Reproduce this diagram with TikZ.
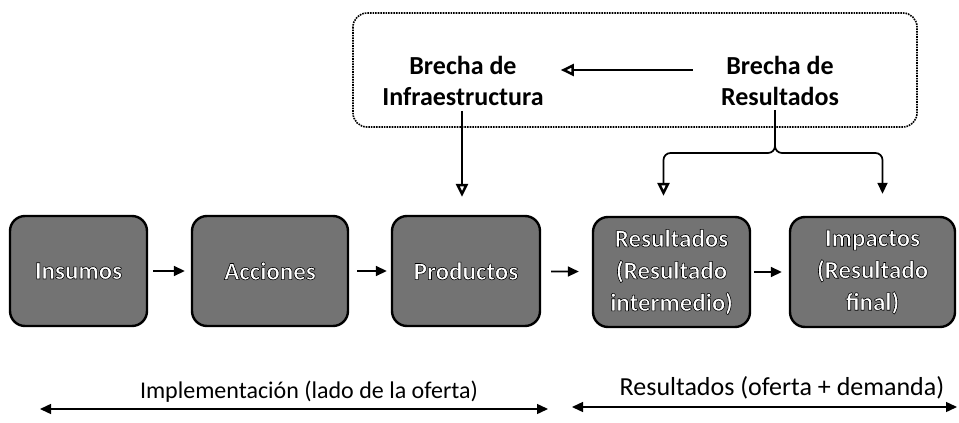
\documentclass[tikz,border=0pt]{standalone}
\usepackage{fontspec}
\setmainfont{Carlito}
\usetikzlibrary{arrows.meta,calc}
\tikzset{
  stage/.style={draw=black, line width=2.4pt, rounded corners=15pt, fill=black!55,
    minimum height=110pt, text=white, font=\fontsize{25}{32}\selectfont\bfseries,
    align=center, inner sep=2pt},
  gap/.style={font=\fontsize{26}{31}\selectfont\bfseries, align=center, inner sep=2pt},
  conn/.style={line width=1.7pt, -{Triangle[length=11pt,width=10pt]}},
  connopen/.style={line width=1.7pt, -{Triangle[open,length=13pt,width=12pt,line width=2.5pt]}},
  twoway/.style={line width=1.4pt, {Triangle[length=11pt,width=10pt]}-{Triangle[length=11pt,width=10pt]}}
}
\newcommand{\outl}[1]{\special{pdf:literal direct 2 Tr 0.6 w 0 G}#1\special{pdf:literal direct 0 Tr}}
\begin{document}
\begin{tikzpicture}[x=1pt,y=-1pt]
\useasboundingbox (0,0) rectangle (959,423);
% dotted frame
\draw[densely dotted, line width=1.6pt, rounded corners=14pt] (353,13) rectangle (917,127);
% gap labels
\node[gap] (binf) at (463,81) {Brecha de\\Infraestructura};
\node[gap] (bres) at (780,81) {Brecha de\\Resultados};
% stages
\node[stage, minimum width=137pt] (ins) at (78.5,271) {\outl{Insumos}};
\node[stage, minimum width=156pt] (acc) at (270,271) {\outl{Acciones}};
\node[stage, minimum width=148pt] (pro) at (466,271) {\outl{Productos}};
\node[stage, minimum width=157pt] (res) at (671.5,272) {\outl{Resultados}\\\outl{(Resultado}\\\outl{intermedio)}};
\node[stage, minimum width=165pt] (imp) at (872.5,272) {\outl{Impactos}\\\outl{(Resultado}\\\outl{final)}};
% stage arrows
\draw[conn, shorten <=5pt, shorten >=6pt] (ins) -- (acc);
\draw[conn, shorten <=8pt, shorten >=4pt] (acc) -- (pro);
\draw[conn, shorten <=10pt, shorten >=13pt] (pro) -- (res);
\draw[conn, shorten <=3pt, shorten >=7pt] (res) -- (imp);
% gap arrows
\draw[connopen, shorten <=26pt, shorten >=15pt] ([yshift=11pt]bres.west) -- ([yshift=11pt]binf.east);
\draw[connopen, shorten <=3pt, shorten >=18pt] ([xshift=-1pt]binf.south) -- ([xshift=-1pt]binf.south |- pro.north);
\coordinate (fork) at (775,153);
\draw[line width=1.7pt] ([xshift=-5pt,yshift=-2pt]bres.south) -- ([yshift=10pt]fork);
\draw[connopen, rounded corners=7pt] ([yshift=10pt]fork) -- (fork) -| ([xshift=-8pt,yshift=20pt]res.north);
\draw[conn, rounded corners=7pt] ([yshift=10pt]fork) -- (fork) -| ([xshift=10pt,yshift=22pt]imp.north);
% spans
\coordinate (l1) at (40,409);
\coordinate (l2) at (548,409);
\coordinate (r1) at (572,407);
\coordinate (r2) at (957,407);
\draw[twoway] (l1) -- (l2);
\draw[twoway] (r1) -- (r2);
\node[font=\fontsize{24}{26}\selectfont, inner sep=0pt, anchor=south] (impl) at (309,403) {Implementación (lado de la oferta)};
\node[font=\fontsize{26}{28}\selectfont, inner sep=0pt, anchor=south] (resd) at (782,399) {Resultados (oferta + demanda)};
\end{tikzpicture}
\end{document}
